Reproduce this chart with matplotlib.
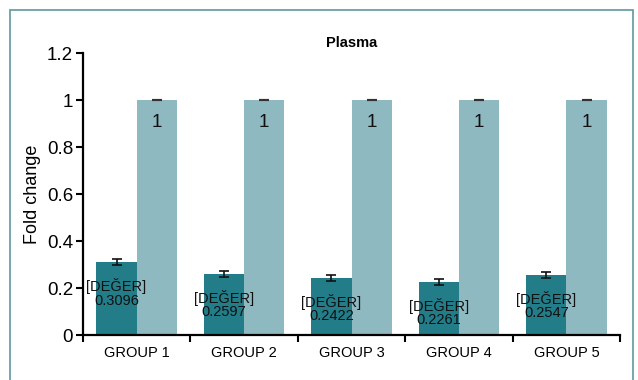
import matplotlib
matplotlib.use("Agg")
import matplotlib.pyplot as plt
import numpy as np
from matplotlib.patches import Rectangle

plt.rcParams["font.family"] = ["Liberation Sans", "DejaVu Sans"]

# Valeurs du graphique
groups = ["GROUP 1", "GROUP 2", "GROUP 3", "GROUP 4", "GROUP 5"]
treated = [0.3096, 0.2597, 0.2422, 0.2261, 0.2547]
treated_err = [0.013, 0.014, 0.014, 0.014, 0.014]
control = [1, 1, 1, 1, 1]
control_err = [0.002, 0.002, 0.002, 0.002, 0.002]

dark = "#237d89"
light = "#8fb9c1"

fig = plt.figure(figsize=(6.38, 3.8), dpi=100)
ax = fig.add_axes([0.130, 0.1184, 0.842, 0.7421])

x = np.arange(len(groups)) + 0.5
w = 0.375

ax.bar(x - w / 2, treated, w, color=dark, zorder=2)
ax.bar(x + w / 2, control, w, color=light, zorder=2)
ax.errorbar(x - w / 2, treated, yerr=treated_err, fmt="none", ecolor="#111111",
            elinewidth=1.2, capsize=3.5, capthick=1.2, zorder=3)
ax.errorbar(x + w / 2, control, yerr=control_err, fmt="none", ecolor="#333333",
            elinewidth=1.2, capsize=3.5, capthick=1.5, zorder=3)

# Etiquettes des barres
for xi, v in zip(x - w / 2, treated):
    ax.annotate(f"[DEĞER]\n{v}", (xi, v), xytext=(0, -22), textcoords="offset points",
                ha="center", va="center", fontsize=10.5, linespacing=0.95, color="#111111")
for xi, v in zip(x + w / 2, control):
    ax.annotate(f"{v}", (xi, v), xytext=(0, -16), textcoords="offset points",
                ha="center", va="center", fontsize=13.5, color="#111111")

ax.set_xlim(0, 5)
ax.set_ylim(0, 1.2)
ax.set_yticks([0, 0.2, 0.4, 0.6, 0.8, 1.0, 1.2])
ax.set_yticklabels(["0", "0.2", "0.4", "0.6", "0.8", "1", "1.2"], fontsize=13.5)
ax.set_xticks(np.arange(6))
ax.set_xticklabels([])
ax.set_xticks(x, minor=True)
ax.set_xticklabels(groups, minor=True, fontsize=10.5)
ax.tick_params(axis="x", which="minor", length=0, pad=8)
ax.tick_params(axis="both", which="major", length=5, width=1.5, color="black")
ax.tick_params(axis="y", pad=2)

for s in ["top", "right"]:
    ax.spines[s].set_visible(False)
for s in ["left", "bottom"]:
    ax.spines[s].set_linewidth(1.6)

ax.set_ylabel("Fold change", fontsize=13, labelpad=4)
fig.text(0.551, 0.887, "Plasma", ha="center", va="center", fontsize=10.5, fontweight="bold")

# Cadre autour du graphique
fig.patches.append(Rectangle((10 / 638, -0.05), 623 / 638, 1.05 - 10 / 380,
                             transform=fig.transFigure, fill=False,
                             edgecolor="#5f979d", linewidth=1.2))

plt.savefig("out.png", dpi=100)
plt.close()
